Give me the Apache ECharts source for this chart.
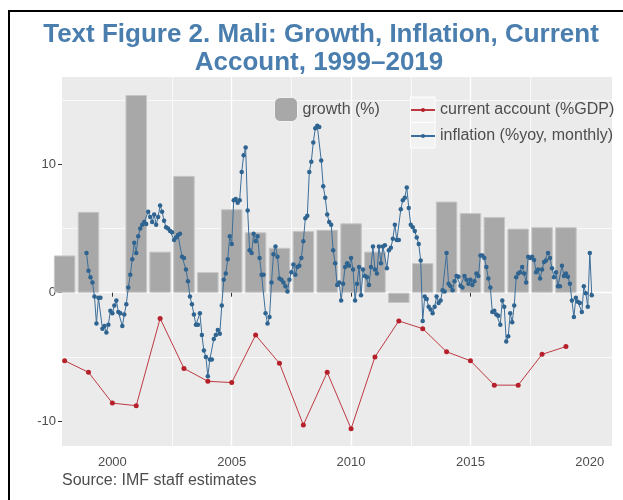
<!DOCTYPE html>
<html>
<head>
<meta charset="utf-8">
<title>Mali: Growth, Inflation, Current Account</title>
<script src="https://cdn.jsdelivr.net/npm/echarts@6/dist/echarts.min.js"></script>
<style>
  html, body { margin: 0; padding: 0; background: #fff; }
  #chart { width: 623px; height: 500px; }
</style>
</head>
<body>
<div id="chart"></div>
<script>
// annual data
var years = [1998, 1999, 2000, 2001, 2002, 2003, 2004, 2005, 2006, 2007, 2008,
             2009, 2010, 2011, 2012, 2013, 2014, 2015, 2016, 2017, 2018, 2019];
var growth = [2.9, 6.3, null, 15.4, 3.2, 9.1, 1.6, 6.5, 4.7, 3.5, 4.8,
              4.9, 5.4, 3.2, -0.8, 2.3, 7.1, 6.2, 5.9, 5.0, 5.1, 5.1];
var currentAccount = [-5.3, -6.2, -8.6, -8.8, -2.0, -5.9, -6.9, -7.0, -3.3, -5.5, -10.3,
                      -6.2, -10.6, -5.0, -2.2, -2.8, -4.6, -5.3, -7.2, -7.2, -4.8, -4.2];

// monthly inflation, first observation Dec 1998
var inflStartYear = 1998, inflStartMonth = 12;
var inflation = [
  3.1, 1.7, 1.2, 0.8, -0.3, -2.4, -0.4, -0.4, -2.8, -2.6, -3.1, -2.5, -1.4,
  -1.6, -1.0, -0.6, -1.5, -1.6, -2.6, -1.7, -0.9, 0.4, 1.4, 2.6, 3.9,
  3.1, 4.4, 5.0, 5.3, 5.5, 5.35, 6.3, 5.9, 5.5, 6.1, 5.3, 5.9,
  6.8, 6.3, 5.6, 5.1, 5.0, 4.8, 4.7, 4.1, 4.3, 4.5, 4.6, 2.8,
  2.7, 1.8, 0.9, -0.3, -0.9, -1.7, -2.5, -2.5, -1.6, -3.3, -4.5, -5.0,
  -6.5, -5.2, -5.2, -3.6, -3.3, -2.9, -3.2, -1.0, 1.0, 1.5, 2.6, 4.4,
  3.8, 7.2, 7.3, 7.0, 7.2, 9.4, 10.7, 11.3, 6.4, 3.3, 3.1, 4.6,
  4.0, 4.4, 2.7, 1.4, 1.4, -1.6, -2.4, -1.9, 0.8, 3.0, 3.6, 2.8,
  1.1, 1.0, 0.8, 0.5, 0.1, 1.0, 1.6, 2.2, 1.4, 2.0, 2.1, 2.7,
  4.0, 5.8, 6.0, 9.4, 10.2, 11.7, 12.8, 13.0, 12.9, 10.3, 8.3, 7.4,
  6.1, 5.5, 5.3, 3.3, 2.3, 0.6, 0.8, -0.6, 0.7, 2.0, 2.3, 2.1,
  2.7, 1.8, -0.6, 0.7, 2.0, -0.2, 1.8, 1.3, 1.2, 0.6, 2.0, 3.6,
  1.8, 1.5, 3.6, 2.3, 3.6, 3.7, 1.9, 3.3, 3.5, 4.2, 5.3, 4.1,
  4.1, 6.5, 7.2, 7.4, 8.2, 6.6, 5.3, 5.1, 4.8, 4.3, 3.8, 2.5,
  -2.2, -0.3, -0.5, -1.1, -1.3, -1.6, -1.1, -0.3, -0.8, -0.6, 0.2, 0.1,
  3.1, 0.7, 0.5, 0.2, 0.9, 1.3, 1.25, 0.55, 0.4, 1.3, 1.0, 0.7,
  1.0, 0.6, 0.9, 1.5, 1.3, 2.9, 2.9, 2.7, 2.0, 1.1, 0.4, -1.5,
  -1.4, -1.7, -1.8, -2.5, -0.6, -1.1, -3.8, -3.4, -1.6, -2.3, -1.0, 1.2,
  1.5, 1.6, 2.0, 1.5, 0.8, 2.8, 2.7, 2.8, 2.55, 1.6, 1.8, 1.1,
  1.8, 2.4, 2.5, 3.1, 2.7, 1.9, 1.2, 1.6, 0.5, 0.5, 2.1, 1.3,
  1.5, 1.25, 0.7, -0.6, -1.9, -0.4, -0.7, -0.8, -1.5, 0.5, -0.05, -1.1,
  3.1, -0.2
];

var xTickValues = [2000, 2005, 2010, 2015, 2020];
var yTickValues = [-10, 0, 10];

var growthData = [], caData = [], inflData = [];
for (var i = 0; i < years.length; i++) {
  if (growth[i] !== null) growthData.push([years[i], growth[i]]);
  caData.push([years[i], currentAccount[i]]);
}
for (var j = 0; j < inflation.length; j++) {
  inflData.push([inflStartYear + (inflStartMonth - 1 + j) / 12, inflation[j]]);
}

var textFont = 'Liberation Sans, Arial, sans-serif';
var titleFont = 'bold 26px "Liberation Sans", Arial, sans-serif';
var labelColor = '#4d4d4d';

var chart = echarts.init(document.getElementById('chart'), null, {renderer: 'canvas'});
chart.setOption({
  animation: false,
  backgroundColor: '#ffffff',
  grid: {
    left: 62, right: 11, top: 77, bottom: 54,
    show: true, backgroundColor: '#ebebeb', borderWidth: 0
  },
  xAxis: {
    type: 'value',
    min: 1997.89, max: 2020.93,
    splitNumber: 4,
    axisLine: {show: false},
    axisTick: {show: true, length: 4, customValues: xTickValues, lineStyle: {color: '#333333', width: 1}},
    axisLabel: {customValues: xTickValues, margin: 10, fontSize: 13, color: labelColor,
                fontFamily: textFont, formatter: function (v) { return String(v); }},
    splitLine: {show: true, showMinLine: false, showMaxLine: false, lineStyle: {color: '#ffffff', width: 1.3}},
    minorTick: {show: false, splitNumber: 2},
    minorSplitLine: {show: true, lineStyle: {color: '#ffffff', width: 0.7}}
  },
  yAxis: {
    type: 'value',
    min: -11.94, max: 16.8,
    splitNumber: 3,
    axisLine: {show: false},
    axisTick: {show: true, length: 4, customValues: yTickValues, lineStyle: {color: '#333333', width: 1}},
    axisLabel: {customValues: yTickValues, margin: 6, fontSize: 13, color: labelColor,
                fontFamily: textFont, formatter: function (v) { return String(v); }},
    splitLine: {show: true, showMinLine: false, showMaxLine: false, lineStyle: {color: '#ffffff', width: 1.3}},
    minorTick: {show: false, splitNumber: 2},
    minorSplitLine: {show: true, lineStyle: {color: '#ffffff', width: 0.7}}
  },
  legend: [
    {
      data: ['growth (%)'],
      left: 274, top: 97, padding: 0,
      itemWidth: 23, itemHeight: 24,
      itemStyle: {borderColor: '#f2f2f2', borderWidth: 1},
      textStyle: {fontSize: 16, color: labelColor, fontFamily: textFont},
      selectedMode: false
    },
    {
      data: ['current account (%GDP)', 'inflation (%yoy, monthly)'],
      orient: 'vertical',
      left: 410, top: 102, padding: 0,
      itemWidth: 24, itemHeight: 5, itemGap: 10,
      textStyle: {fontSize: 16, color: labelColor, fontFamily: textFont},
      selectedMode: false
    }
  ],
  graphic: [
    {type: 'rect', z: 100, silent: true,
     shape: {x: 9, y: 11, width: 700, height: 700},
     style: {fill: 'none', stroke: '#000000', lineWidth: 2}},
    {type: 'rect', z: 3, silent: true,
     shape: {x: 410.5, y: 97, width: 24.5, height: 25.5},
     style: {fill: '#f2f2f2', stroke: '#ffffff', lineWidth: 1}},
    {type: 'rect', z: 3, silent: true,
     shape: {x: 410.5, y: 122.5, width: 24.5, height: 25.5},
     style: {fill: '#f2f2f2', stroke: '#ffffff', lineWidth: 1}},
    {type: 'text', z: 100, x: 321, y: 22,
     style: {text: 'Text Figure 2. Mali: Growth, Inflation, Current', textAlign: 'center',
             fill: '#4a7eae', font: titleFont}},
    {type: 'text', z: 100, x: 319, y: 50,
     style: {text: 'Account, 1999\u20132019', textAlign: 'center',
             fill: '#4a7eae', font: titleFont}},
    {type: 'text', z: 100, x: 62, y: 473,
     style: {text: 'Source: IMF staff estimates', fill: labelColor,
             font: '16px "Liberation Sans", Arial, sans-serif'}}
  ],
  series: [
    {
      name: 'growth (%)', type: 'bar',
      data: growthData, barWidth: 21.5,
      itemStyle: {color: '#a8a8a8', borderColor: '#c6c6c6', borderWidth: 1},
      z: 2
    },
    {
      name: 'current account (%GDP)', type: 'line',
      data: caData, symbol: 'circle', symbolSize: 5,
      itemStyle: {color: '#b5202a'},
      lineStyle: {color: '#bd3a42', width: 1},
      z: 3
    },
    {
      name: 'inflation (%yoy, monthly)', type: 'line',
      data: inflData, symbol: 'circle', symbolSize: 4.5, showAllSymbol: true,
      itemStyle: {color: '#2f6491'},
      lineStyle: {color: '#3b6e9a', width: 1},
      z: 4
    }
  ]
});
</script>
</body>
</html>
